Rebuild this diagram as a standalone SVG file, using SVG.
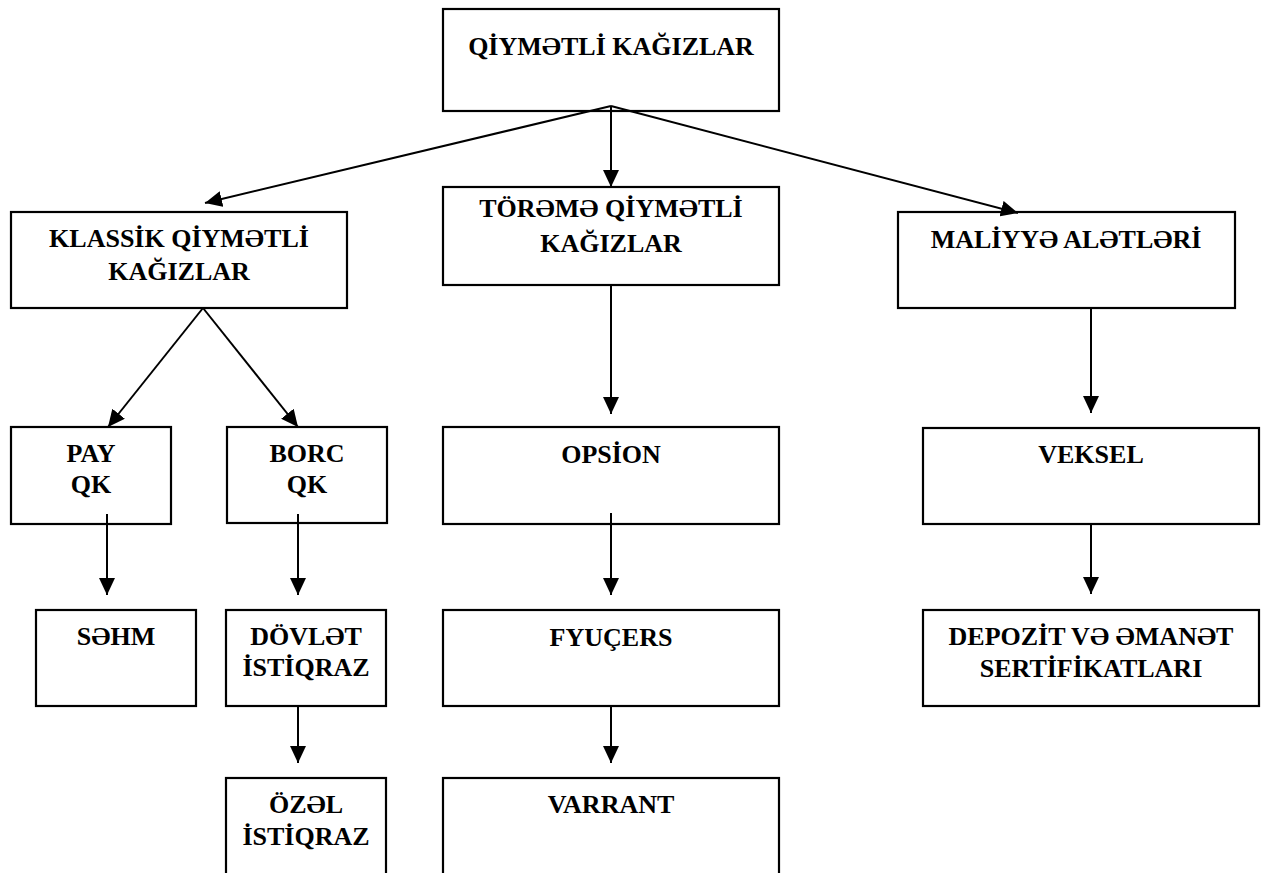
<svg xmlns="http://www.w3.org/2000/svg" width="1266" height="873" viewBox="0 0 1266 873">
  <style>
    .box { fill: #ffffff; stroke: #000000; stroke-width: 2.2; }
    .lbl { font-family: "Liberation Serif", "Times New Roman", serif; font-weight: bold; font-size: 26px; fill: #000000; text-anchor: middle; }
    .edge { fill: none; stroke: #000000; stroke-width: 2; marker-end: url(#arrow); }
  </style>
  <defs>
    <marker id="arrow" markerUnits="userSpaceOnUse" markerWidth="18" markerHeight="16" refX="17" refY="8" orient="auto">
      <path d="M0,0 L17,8 L0,16 z" fill="#000000"/>
    </marker>
  </defs>
  <rect width="1266" height="873" fill="#ffffff"/>

  <g id="qiymetli-kagizlar">
    <rect class="box" x="443" y="9" width="336" height="102"/>
    <text class="lbl" x="611" y="55">QİYMƏTLİ KAĞIZLAR</text>
  </g>

  <g id="klassik">
    <rect class="box" x="11" y="212" width="336" height="96"/>
    <text class="lbl" x="179" y="247">KLASSİK QİYMƏTLİ</text>
    <text class="lbl" x="179" y="280">KAĞIZLAR</text>
  </g>

  <g id="toreme">
    <rect class="box" x="443" y="187" width="336" height="98"/>
    <text class="lbl" x="611" y="217">TÖRƏMƏ QİYMƏTLİ</text>
    <text class="lbl" x="611" y="252">KAĞIZLAR</text>
  </g>

  <g id="maliyye">
    <rect class="box" x="898" y="212" width="337" height="96"/>
    <text class="lbl" x="1066" y="248">MALİYYƏ ALƏTLƏRİ</text>
  </g>

  <g id="pay-qk">
    <rect class="box" x="11" y="427" width="160" height="97"/>
    <text class="lbl" x="91" y="462">PAY</text>
    <text class="lbl" x="91" y="493">QK</text>
  </g>

  <g id="borc-qk">
    <rect class="box" x="227" y="427" width="160" height="96"/>
    <text class="lbl" x="307" y="462">BORC</text>
    <text class="lbl" x="307" y="493">QK</text>
  </g>

  <g id="opsion">
    <rect class="box" x="443" y="427" width="336" height="97"/>
    <text class="lbl" x="611" y="463">OPSİON</text>
  </g>

  <g id="veksel">
    <rect class="box" x="923" y="428" width="336" height="96"/>
    <text class="lbl" x="1091" y="463">VEKSEL</text>
  </g>

  <g id="sehm">
    <rect class="box" x="36" y="610" width="160" height="96"/>
    <text class="lbl" x="116" y="645">SƏHM</text>
  </g>

  <g id="dovlet-istiqraz">
    <rect class="box" x="226" y="610" width="160" height="96"/>
    <text class="lbl" x="306" y="645">DÖVLƏT</text>
    <text class="lbl" x="306" y="676">İSTİQRAZ</text>
  </g>

  <g id="fyucers">
    <rect class="box" x="443" y="610" width="336" height="96"/>
    <text class="lbl" x="611" y="646">FYUÇERS</text>
  </g>

  <g id="depozit">
    <rect class="box" x="923" y="610" width="336" height="96"/>
    <text class="lbl" x="1091" y="645">DEPOZİT VƏ ƏMANƏT</text>
    <text class="lbl" x="1091" y="677">SERTİFİKATLARI</text>
  </g>

  <g id="ozel-istiqraz">
    <rect class="box" x="226" y="778" width="160" height="110"/>
    <text class="lbl" x="306" y="813">ÖZƏL</text>
    <text class="lbl" x="306" y="845">İSTİQRAZ</text>
  </g>

  <g id="varrant">
    <rect class="box" x="443" y="778" width="336" height="110"/>
    <text class="lbl" x="611" y="813">VARRANT</text>
  </g>

  <g id="connectors">
    <line class="edge" x1="611" y1="106" x2="205" y2="203"/>
    <line class="edge" x1="611" y1="106" x2="611" y2="187"/>
    <line class="edge" x1="611" y1="106" x2="1018" y2="213"/>
    <line class="edge" x1="203" y1="308" x2="108" y2="427"/>
    <line class="edge" x1="203" y1="308" x2="298" y2="427"/>
    <line class="edge" x1="611" y1="285" x2="611" y2="414"/>
    <line class="edge" x1="1091" y1="308" x2="1091" y2="413"/>
    <line class="edge" x1="107" y1="514" x2="107" y2="595"/>
    <line class="edge" x1="298" y1="514" x2="298" y2="595"/>
    <line class="edge" x1="611" y1="513" x2="611" y2="595"/>
    <line class="edge" x1="1091" y1="524" x2="1091" y2="594"/>
    <line class="edge" x1="298" y1="706" x2="298" y2="763"/>
    <line class="edge" x1="611" y1="706" x2="611" y2="763"/>
  </g>
</svg>
